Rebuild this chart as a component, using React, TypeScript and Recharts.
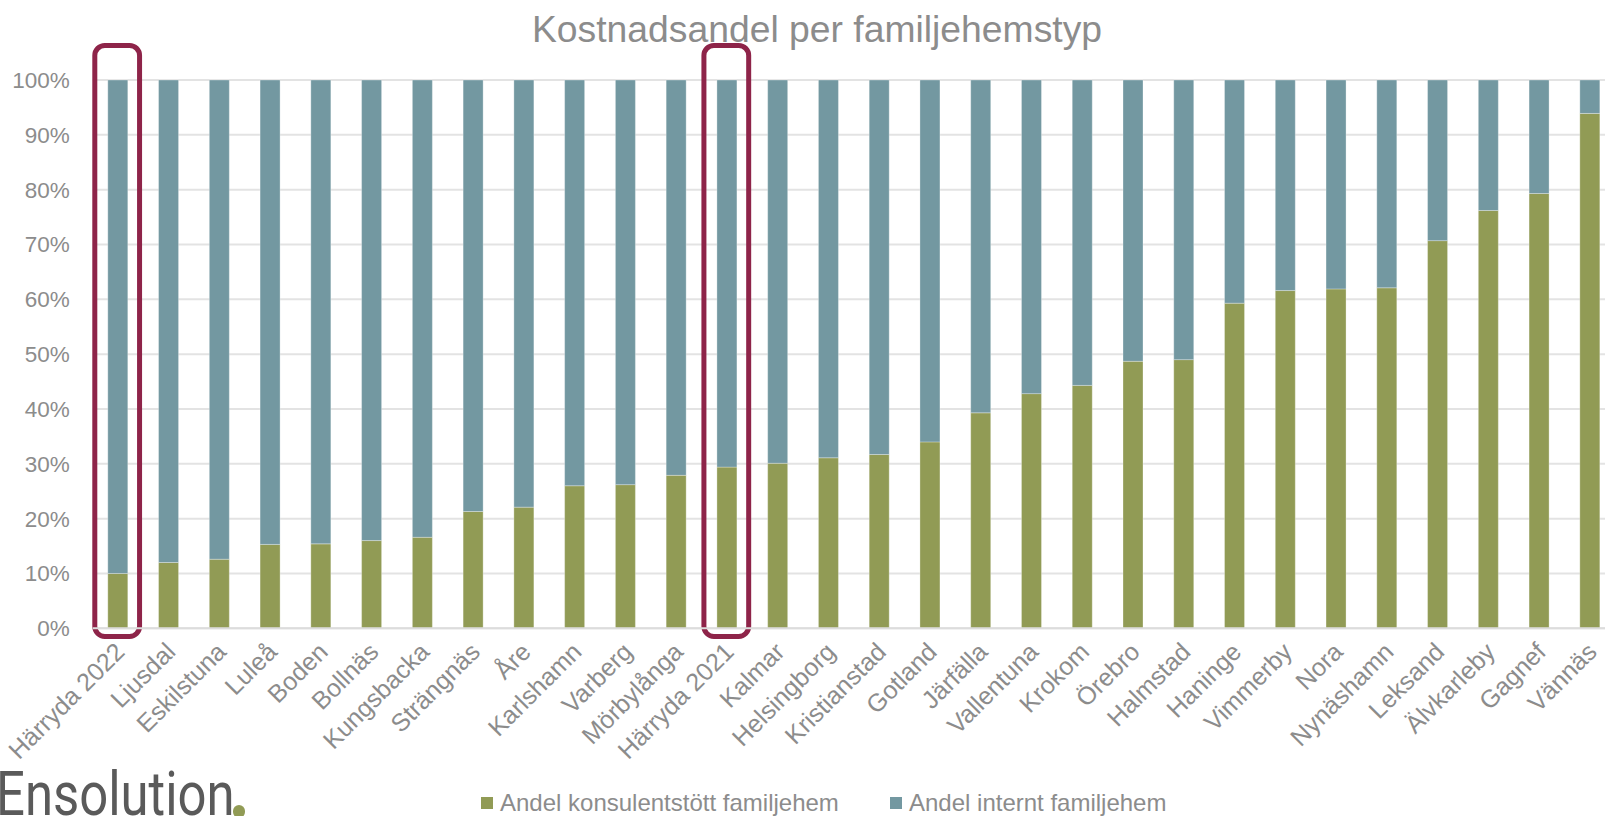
import React from 'react';
import {
  BarChart,
  Bar,
  XAxis,
  YAxis,
  CartesianGrid,
  Legend,
  ReferenceArea
} from 'recharts';

const municipalities = [
  'Härryda 2022', 'Ljusdal', 'Eskilstuna', 'Luleå', 'Boden', 'Bollnäs',
  'Kungsbacka', 'Strängnäs', 'Åre', 'Karlshamn', 'Varberg', 'Mörbylånga',
  'Härryda 2021', 'Kalmar', 'Helsingborg', 'Kristianstad', 'Gotland', 'Järfälla',
  'Vallentuna', 'Krokom', 'Örebro', 'Halmstad', 'Haninge', 'Vimmerby',
  'Nora', 'Nynäshamn', 'Leksand', 'Älvkarleby', 'Gagnef', 'Vännäs'
];

const konsulentShare = [
  10.0, 12.0, 12.6, 15.3, 15.4, 16.0, 16.6, 21.3, 22.1, 26.0,
  26.2, 27.9, 29.4, 30.1, 31.1, 31.7, 34.0, 39.3, 42.8, 44.3,
  48.7, 49.0, 59.3, 61.6, 61.9, 62.1, 70.7, 76.2, 79.3, 93.9
];

const internShare = [
  90.0, 88.0, 87.4, 84.7, 84.6, 84.0, 83.4, 78.7, 77.9, 74.0,
  73.8, 72.1, 70.6, 69.9, 68.9, 68.3, 66.0, 60.7, 57.2, 55.7,
  51.3, 51.0, 40.7, 38.4, 38.1, 37.9, 29.3, 23.8, 20.7, 6.1
];

const yTicks = [0, 10, 20, 30, 40, 50, 60, 70, 80, 90, 100];

const highlighted = ['Härryda 2022', 'Härryda 2021'];

const seriesNames = ['Andel konsulentstött familjehem', 'Andel internt familjehem'];

const GREEN = '#919b55';
const TEAL = '#7398a1';
const TEXT = '#8c8c8c';
const FONT = '"Liberation Sans", Arial, sans-serif';

const chartData = municipalities.map((name, i) => ({
  name,
  konsulent: konsulentShare[i],
  intern: internShare[i]
}));

const XTick = ({ x, y, payload }: any) => (
  <g transform={`translate(${x + 8},${y + 25})`}>
    <text
      x={0}
      y={0}
      textAnchor="end"
      transform="rotate(-45)"
      fill={TEXT}
      fontSize={25}
      fontFamily={FONT}
    >
      {payload.value}
    </text>
  </g>
);

const HighlightBox = ({ x, y, width, height }: any) => (
  <rect
    x={x + 2}
    y={y}
    width={width - 6}
    height={height}
    rx={10}
    ry={10}
    fill="none"
    stroke="#8e2449"
    strokeWidth={5}
  />
);

const legendColors = [GREEN, TEAL];
const legendLeft = [481, 890];

const renderLegend = () => (
  <div style={{ position: 'relative', height: 30, fontFamily: FONT, fontSize: 24, color: TEXT }}>
    {seriesNames.map((name, i) => (
      <div key={name} style={{ position: 'absolute', left: legendLeft[i], top: 0, whiteSpace: 'nowrap' }}>
        <span
          style={{
            position: 'absolute',
            left: 0,
            top: 8,
            width: 12,
            height: 12,
            background: legendColors[i]
          }}
        />
        <span style={{ position: 'absolute', left: 19, top: 0, lineHeight: '28px' }}>{name}</span>
      </div>
    ))}
  </div>
);

const App: React.FC = () => {
  return (
    <div style={{ position: 'absolute', left: 0, top: 0, width: 1605, height: 816, overflow: 'hidden', background: '#fff' }}>
      <div
        style={{
          position: 'absolute',
          left: 0,
          top: 11,
          width: 1634,
          textAlign: 'center',
          fontFamily: FONT,
          fontSize: 37.3,
          lineHeight: '37px',
          color: TEXT,
          zIndex: 2
        }}
      >
        Kostnadsandel per familjehemstyp
      </div>
      <BarChart
        width={1625}
        height={816}
        data={chartData}
        margin={{ top: 80, right: 9.4, bottom: 37.7, left: 0 }}
        barSize={20}
      >
        <CartesianGrid vertical={false} stroke="#e3e3e3" strokeWidth={2} />
        <XAxis
          dataKey="name"
          interval={0}
          height={150}
          tickLine={false}
          tickSize={0}
          tickMargin={0}
          axisLine={{ stroke: '#dcdcdc', strokeWidth: 2 }}
          tick={<XTick />}
        />
        <YAxis
          width={92.8}
          domain={[0, 100]}
          ticks={yTicks}
          interval={0}
          axisLine={false}
          tickLine={false}
          tickSize={0}
          tickMargin={23}
          tickFormatter={(v: number) => `${v}%`}
          tick={{ fill: TEXT, fontSize: 22.5, fontFamily: FONT }}
        />
        <Legend
          layout="horizontal"
          verticalAlign="middle"
          align="center"
          wrapperStyle={{ top: 789, left: 0, width: 1605 }}
          content={renderLegend}
        />
        <Bar
          dataKey="konsulent"
          name={seriesNames[0]}
          stackId="a"
          fill={GREEN}
          stroke="#ffffff"
          strokeOpacity={0.5}
          strokeWidth={0.6}
          isAnimationActive={false}
        />
        <Bar
          dataKey="intern"
          name={seriesNames[1]}
          stackId="a"
          fill={TEAL}
          stroke="#ffffff"
          strokeOpacity={0.5}
          strokeWidth={0.6}
          isAnimationActive={false}
        />
        {highlighted.map(name => (
          <ReferenceArea
            key={name}
            x1={name}
            x2={name}
            y1={-1.5}
            y2={106.3}
            ifOverflow="visible"
            shape={<HighlightBox />}
          />
        ))}
      </BarChart>
      <div
        style={{
          position: 'absolute',
          left: -4,
          top: 763,
          fontFamily: 'Roboto, sans-serif',
          fontSize: 62,
          lineHeight: '62px',
          color: '#5a5a5a',
          transform: 'scaleX(0.82)',
          transformOrigin: 'left top',
          whiteSpace: 'nowrap'
        }}
      >
        Ensolution
      </div>
      <div
        style={{
          position: 'absolute',
          left: 232.5,
          top: 805,
          width: 12.5,
          height: 12.5,
          borderRadius: '50%',
          background: GREEN
        }}
      />
    </div>
  );
};

export default App;
